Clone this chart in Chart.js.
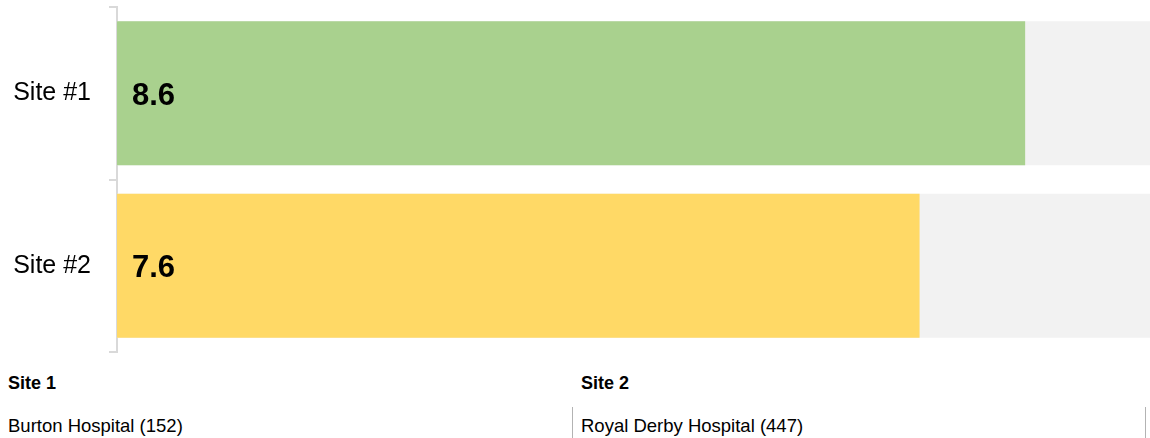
<!DOCTYPE html>
<html>
<head>
<meta charset="utf-8">
<script src="https://cdn.jsdelivr.net/npm/chart.js@4/dist/chart.umd.min.js"></script>
<style>
  html, body { margin: 0; padding: 0; background: #fff; overflow: hidden; width: 1150px; height: 438px; }
  body { font-family: "Liberation Sans", Arial, sans-serif; color: #000; position: relative; }
  #c { position: absolute; left: 0; top: 0; display: block; }
  #sites { position: absolute; left: 0; top: 372px; display: flex; }
  .col { width: 573px; box-sizing: border-box; }
  .head { font-weight: bold; font-size: 18px; line-height: 22px; height: 35px; padding-left: 8px; }
  .body { font-size: 18.5px; line-height: 38px; height: 40px; padding-left: 8px; border-right: 1px solid #b3b3b3; box-sizing: border-box; }
</style>
</head>
<body>
<canvas id="c" width="1173" height="356"></canvas>
<div id="sites"></div>
<script>
// Scores per site, out of a maximum of 10
const categories = ['Site #1', 'Site #2'];
const scores = [8.6, 7.6];
const scoreMax = 10;
const barColors = ['#a9d18e', '#ffd966'];
const trackColor = '#f2f2f2';

// Site key shown under the chart
const siteHeads = ['Site 1', 'Site 2'];
const hospitals = ['Burton Hospital (152)', 'Royal Derby Hospital (447)'];

const sitesEl = document.getElementById('sites');
siteHeads.forEach((h, i) => {
  const col = document.createElement('div');
  col.className = 'col';
  const hd = document.createElement('div');
  hd.className = 'head';
  hd.textContent = h;
  const bd = document.createElement('div');
  bd.className = 'body';
  bd.textContent = hospitals[i];
  col.appendChild(hd);
  col.appendChild(bd);
  sitesEl.appendChild(col);
});

const FONT = "'Liberation Sans', Arial, sans-serif";

// Writes each score in bold just inside the left end of its bar
const valueLabels = {
  id: 'valueLabels',
  afterDatasetsDraw(chart) {
    const ctx = chart.ctx;
    const meta = chart.getDatasetMeta(1);
    ctx.save();
    ctx.font = 'bold 31px ' + FONT;
    ctx.fillStyle = '#000';
    ctx.textAlign = 'left';
    ctx.textBaseline = 'middle';
    meta.data.forEach((bar, i) => {
      ctx.fillText(scores[i].toFixed(1), bar.base + 15, bar.y + 3);
    });
    ctx.restore();
  }
};

new Chart(document.getElementById('c'), {
  type: 'bar',
  data: {
    labels: categories,
    datasets: [
      {
        label: 'max',
        data: categories.map(() => scoreMax),
        backgroundColor: trackColor,
        grouped: false,
        order: 2,
        barPercentage: 0.835,
        categoryPercentage: 1
      },
      {
        label: 'score',
        data: scores,
        backgroundColor: barColors,
        grouped: false,
        order: 1,
        barPercentage: 0.835,
        categoryPercentage: 1
      }
    ]
  },
  options: {
    indexAxis: 'y',
    responsive: false,
    animation: false,
    layout: { padding: { top: 7, bottom: 4, left: 0, right: 0 } },
    plugins: { legend: { display: false }, tooltip: { enabled: false } },
    scales: {
      x: { display: false, min: 0, max: scoreMax },
      y: {
        afterFit(scale) {
          scale.width = 117;
          scale.paddingTop = 0;
          scale.paddingBottom = 0;
        },
        border: { display: true, color: '#d9d9d9', width: 2 },
        grid: { drawOnChartArea: false, drawTicks: true, tickLength: 8, color: '#d9d9d9', lineWidth: 2, offset: true },
        ticks: {
          color: '#000',
          padding: 18,
          font: { family: FONT, size: 25, lineHeight: 1.35 }
        }
      }
    }
  },
  plugins: [valueLabels]
});
</script>
</body>
</html>
